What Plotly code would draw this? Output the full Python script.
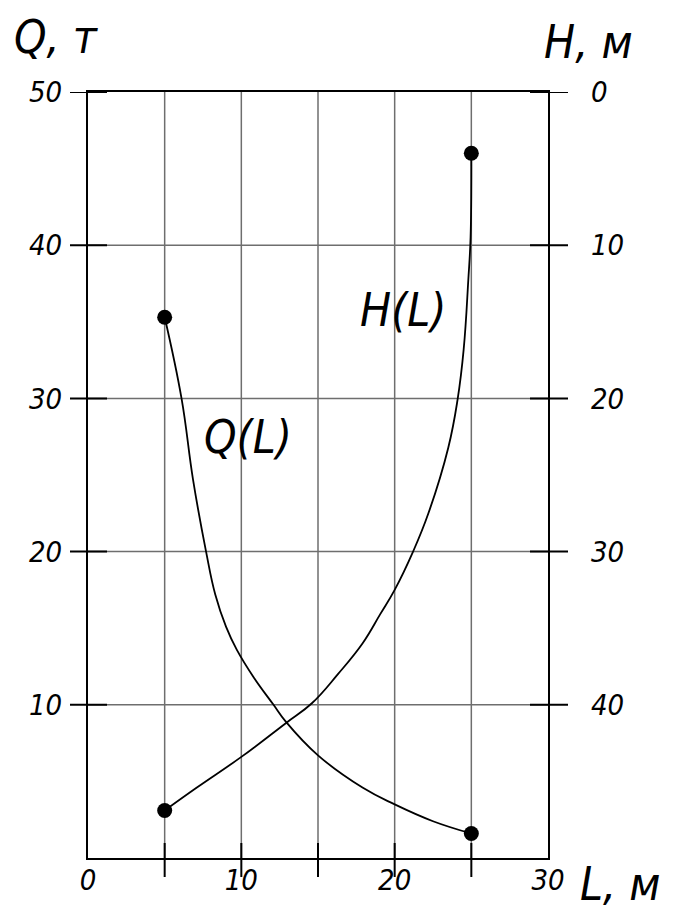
import plotly.graph_objects as go

# ---- data ----
q_L = [5, 6.1, 6.85, 7.7, 8.3, 9.0, 9.7, 10.8, 12.1, 12.9, 15, 17.9, 20, 22.5, 25]
q_val = [35.3, 30, 24.7, 20, 17.2, 15.1, 13.6, 11.8, 10, 8.9, 6.7, 4.6, 3.5, 2.4, 1.6]

h_L = [5, 7.1, 10, 12.9, 14.6, 16.3, 17.9, 19.05, 20, 21.2, 22.2, 23.5, 24.1, 24.5, 24.8, 24.95, 25]
h_val = [46.9, 45.4, 43.4, 41.2, 39.9, 38.0, 36.0, 34.1, 32.5, 30, 27.5, 23.2, 20.1, 16.8, 12.3, 9.5, 4.0]

x_ticks = [0, 10, 20, 30]
x_grid = [5, 10, 15, 20, 25]
q_ticks = [10, 20, 30, 40, 50]
h_ticks = [0, 10, 20, 30, 40]

FONT = "DejaVu Sans Condensed"
OFF = 8  # default page body margin
W, H = 678 - 2 * OFF, 918 - 2 * OFF
L_M, T_M = 88 - OFF, 92 - OFF
PW, PH = 460, 766
R_M = W - L_M - PW
B_M = H - T_M - PH

fig = go.Figure()

fig.add_trace(go.Scatter(
    x=q_L, y=q_val, mode="lines", line=dict(color="black", width=1.8, shape="spline", smoothing=1.2),
    yaxis="y", showlegend=False, hoverinfo="skip"))
fig.add_trace(go.Scatter(
    x=[q_L[0], q_L[-1]], y=[q_val[0], q_val[-1]], mode="markers",
    marker=dict(color="black", size=15), yaxis="y", showlegend=False))

fig.add_trace(go.Scatter(
    x=h_L, y=h_val, mode="lines", line=dict(color="black", width=1.8, shape="spline", smoothing=1.2),
    yaxis="y2", showlegend=False, hoverinfo="skip"))
fig.add_trace(go.Scatter(
    x=[h_L[0], h_L[-1]], y=[h_val[0], h_val[-1]], mode="markers",
    marker=dict(color="black", size=15), yaxis="y2", showlegend=False))

tickfont = dict(family=FONT, size=29, color="black", style="italic")

fig.update_layout(
    width=W, height=H,
    margin=dict(l=L_M, r=R_M, t=T_M, b=B_M),
    paper_bgcolor="white", plot_bgcolor="white",
    xaxis=dict(range=[0, 30], tickvals=x_ticks, ticktext=[str(v) for v in x_ticks],
               showgrid=False, zeroline=False, showline=True, linecolor="black", linewidth=2,
               mirror=True, ticks="", ticklabelstandoff=-5, tickfont=tickfont),
    yaxis=dict(range=[0, 50], tickvals=q_ticks, ticktext=[str(v) for v in q_ticks],
               showgrid=False, zeroline=False, showline=True, linecolor="black", linewidth=2,
               mirror=True, ticks="", ticklabelstandoff=18, tickfont=tickfont),
    yaxis2=dict(range=[50, 0], overlaying="y", side="right", tickvals=h_ticks,
                ticktext=[str(v) for v in h_ticks], showgrid=False, zeroline=False,
                showline=False, ticks="", ticklabelstandoff=42, tickfont=tickfont),
)

shapes = []
for v in x_grid:
    shapes.append(dict(type="line", xref="x", yref="y domain", x0=v, x1=v, y0=0, y1=1,
                       line=dict(color="#6e6e6e", width=1.5), layer="below"))
for v in q_ticks[:-1]:
    shapes.append(dict(type="line", xref="x domain", yref="y", x0=0, x1=1, y0=v, y1=v,
                       line=dict(color="#6e6e6e", width=1.5), layer="below"))
for v in q_ticks:
    shapes.append(dict(type="line", xref="x domain", yref="y", x0=-18 / PW, x1=19 / PW, y0=v, y1=v,
                       line=dict(color="black", width=2)))
for v in h_ticks:
    shapes.append(dict(type="line", xref="x domain", yref="y2", x0=1 - 18 / PW, x1=1 + 20 / PW, y0=v, y1=v,
                       line=dict(color="black", width=2)))
for v in x_grid:
    shapes.append(dict(type="line", xref="x", yref="y domain", x0=v, x1=v, y0=-19 / PH, y1=15 / PH,
                       line=dict(color="black", width=2)))
fig.update_layout(shapes=shapes)

big = dict(family=FONT, size=46, color="black", style="italic")
labels = [
    ("Q,\u00a0т", 12, 37),
    ("H,\u00a0м", 542, 42),
    ("L,\u00a0м", 578, 884),
    ("Q(L)", 202, 437),
    ("H(L)", 358, 310),
]
ann = []
for txt, px, py in labels:
    ann.append(dict(text=txt, xref="paper", yref="paper",
                    x=(px - OFF - L_M) / PW, y=(H - B_M - (py - OFF)) / PH,
                    xanchor="left", yanchor="middle", showarrow=False, font=big))
fig.update_layout(annotations=ann)

fig.write_html("out.html")
